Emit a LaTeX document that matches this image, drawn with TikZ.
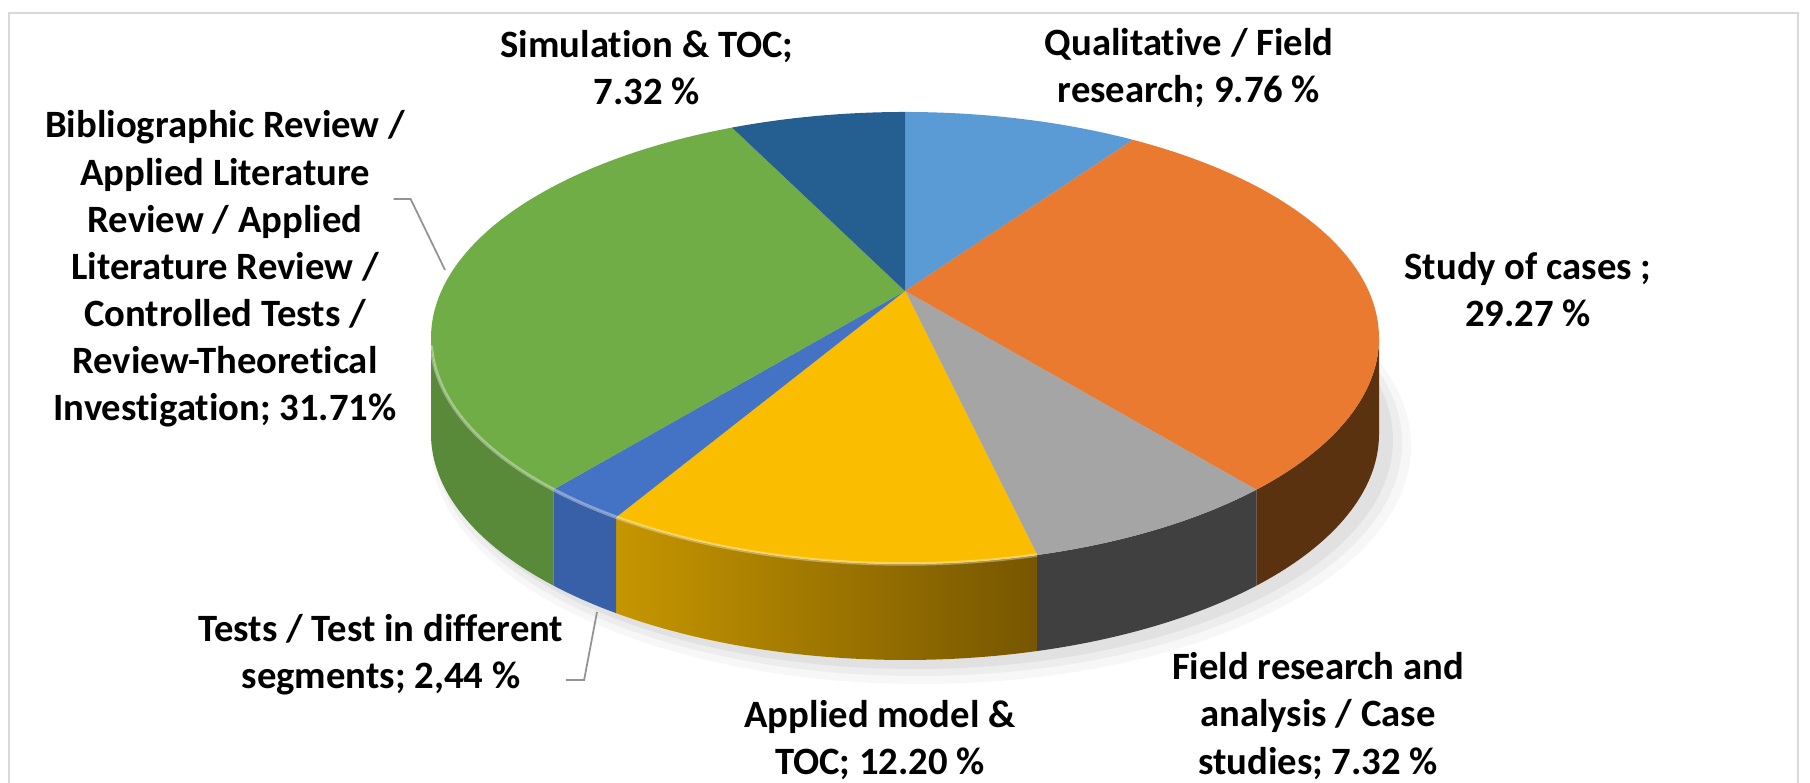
\documentclass[tikz,border=0pt]{standalone}
\usepackage{fontspec}
\setmainfont[Ligatures=NoCommon]{Carlito}
\usepackage{tikz}

\definecolor{qualc}{HTML}{5B9BD5}
\definecolor{studyc}{HTML}{E97A30}
\definecolor{fieldc}{HTML}{A5A5A5}
\definecolor{applc}{HTML}{FABD00}
\definecolor{testsc}{HTML}{4472C4}
\definecolor{biblioc}{HTML}{70AD47}
\definecolor{simc}{HTML}{255E91}
\definecolor{studyside}{HTML}{5A3210}
\definecolor{fieldside}{HTML}{404040}
\definecolor{applsideL}{HTML}{C69600}
\definecolor{applsideR}{HTML}{765600}
\definecolor{testsside}{HTML}{3760A8}
\definecolor{biblioside}{HTML}{588A39}
\definecolor{framec}{HTML}{D9D9D9}

\begin{document}
\begin{tikzpicture}[x=0.01cm, y=0.01cm,
    lbl/.style = {align=center, inner sep=0pt, font=\fontsize{11}{13.4}\selectfont\bfseries},
    leader/.style = {draw=gray!85, line width=0.5pt},
    rim/.style = {x radius=474, y radius=226}]
    \useasboundingbox (0,0) rectangle (1810,783);
    \draw[framec, line width=0.6pt] (9,0) -- (9,770) -- (1798,770) -- (1798,0);

    % pie, centre of the top face ellipse
    \begin{scope}[shift={(905,445)}]
        % soft shadow
        \fill[black, opacity=0.03] (16,-108) ellipse [x radius=490, y radius=238];
        \fill[black, opacity=0.04] (13,-105) ellipse [x radius=484, y radius=233];
        \fill[black, opacity=0.05] (10,-102) ellipse [x radius=478, y radius=229];
        % side wall
        \fill[studyside] (0:474 and 226) arc[start angle=0, end angle=-42.17, rim] -- ++(0,-96) arc[start angle=-42.17, end angle=0, rim] -- cycle;
        \fill[fieldside] (-42.17:474 and 226) arc[start angle=-42.17, end angle=-73.81, rim] -- ++(0,-96) arc[start angle=-73.81, end angle=-42.17, rim] -- cycle;
        \shade[left color=applsideL, right color=applsideR] (-73.81:474 and 226) arc[start angle=-73.81, end angle=-127.54, rim] -- ++(0,-96) arc[start angle=-127.54, end angle=-73.81, rim] -- cycle;
        \fill[testsside] (-127.54:474 and 226) arc[start angle=-127.54, end angle=-137.88, rim] -- ++(0,-96) arc[start angle=-137.88, end angle=-127.54, rim] -- cycle;
        \fill[biblioside] (-137.88:474 and 226) arc[start angle=-137.88, end angle=-180, rim] -- ++(0,-96) arc[start angle=-180, end angle=-137.88, rim] -- cycle;
        % top face
        \fill[qualc] (0,47) -- (90:474 and 226) arc[start angle=90, end angle=61.24, rim] -- cycle;
        \fill[studyc] (0,47) -- (61.24:474 and 226) arc[start angle=61.24, end angle=-42.17, rim] -- cycle;
        \fill[fieldc] (0,47) -- (-42.17:474 and 226) arc[start angle=-42.17, end angle=-73.81, rim] -- cycle;
        \fill[applc] (0,47) -- (-73.81:474 and 226) arc[start angle=-73.81, end angle=-127.54, rim] -- cycle;
        \fill[testsc] (0,47) -- (-127.54:474 and 226) arc[start angle=-127.54, end angle=-137.88, rim] -- cycle;
        \fill[biblioc] (0,47) -- (-137.88:474 and 226) arc[start angle=-137.88, end angle=-248.59, rim] -- cycle;
        \fill[simc] (0,47) -- (111.41:474 and 226) arc[start angle=111.41, end angle=90, rim] -- cycle;
        % light edge on the front
        \draw[white, opacity=0.35, line width=1pt] (-73.81:474 and 226) arc[start angle=-73.81, end angle=-178, rim];
    \end{scope}

    % labels
    \node[lbl] (sim) at (647,715) {Simulation \& TOC;\\7.32 \%};
    \node[lbl] (qual) at (1189,715) {Qualitative / Field\\research; 9.76 \%};
    \node[lbl] (study) at (1528,493) {Study of cases ;\\29.27 \%};
    \node[lbl] (field) at (1318,67) {Field research and\\analysis / Case\\studies; 7.32 \%};
    \node[lbl] (appl) at (880,43) {Applied model \&\\TOC; 12.20 \%};
    \node[lbl] (tests) at (381,128) {Tests / Test in different\\segments; 2,44 \%};
    \node[lbl] (biblio) at (225,514) {Bibliographic Review /\\Applied Literature\\Review / Applied\\Literature Review /\\Controlled Tests /\\Review-Theoretical\\Investigation; 31.71\%};

    % leader lines
    \coordinate (bibtip) at (445,513);
    \coordinate (teststip) at (597,171);
    \draw[leader] ([shift={(-12,70)}]biblio.east) -- ++(17,0) -- (bibtip);
    \draw[leader] ([shift={(2,-25)}]tests.east) -- ++(18,0) -- (teststip);
\end{tikzpicture}
\end{document}
